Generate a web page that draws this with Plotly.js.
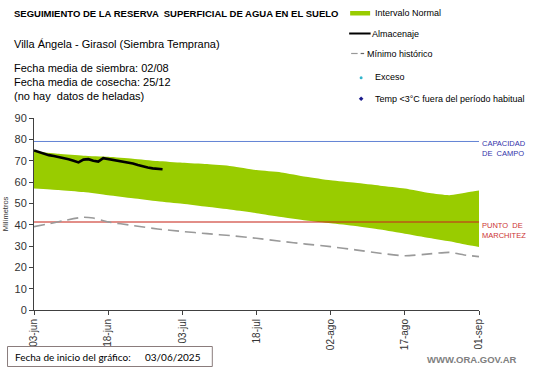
<!DOCTYPE html>
<html>
<head>
<meta charset="utf-8">
<script src="https://cdn.plot.ly/plotly-3.0.1.min.js"></script>
<style>html,body{margin:0;padding:0;background:#fff;}#chart{width:541px;height:368px;}</style>
</head>
<body>
<div id="chart"></div>
<script>
// ---- Data ----
const bandDates = ['2025-06-03','2025-06-08','2025-06-13','2025-06-18','2025-06-23','2025-06-28','2025-07-03','2025-07-08','2025-07-13','2025-07-18','2025-07-23','2025-07-28','2025-08-02','2025-08-07','2025-08-12','2025-08-17','2025-08-22','2025-08-26','2025-08-30','2025-09-01'];
const bandaSup = [74.4,73.2,72.3,71.8,70.9,69.8,69.0,68.4,67.4,65.6,64.5,62.5,60.8,59.6,58.3,57.0,54.8,53.8,55.3,56.0];
const bandaInf = [57.0,56.3,55.3,53.8,52.4,51.0,49.8,48.4,47.0,45.4,43.6,42.0,40.7,39.4,37.7,35.8,33.8,32.2,30.3,29.5];

const minDates = ['2025-06-03','2025-06-06','2025-06-09','2025-06-13','2025-06-15','2025-06-18','2025-06-23','2025-06-28','2025-07-03','2025-07-08','2025-07-13','2025-07-18','2025-07-23','2025-07-28','2025-08-02','2025-08-07','2025-08-12','2025-08-17','2025-08-22','2025-08-26','2025-08-29','2025-09-01'];
const minimoHist = [39.1,40.4,41.9,43.5,43.1,41.3,39.6,38.0,36.8,35.8,34.8,33.6,32.2,30.9,29.7,28.2,26.6,25.4,26.3,27.0,25.8,25.0];

const almDates = ['2025-06-03','2025-06-04','2025-06-05','2025-06-06','2025-06-07','2025-06-08','2025-06-09','2025-06-10','2025-06-11','2025-06-12','2025-06-13','2025-06-14','2025-06-15','2025-06-16','2025-06-17','2025-06-18','2025-06-19','2025-06-20','2025-06-21','2025-06-22','2025-06-23','2025-06-24','2025-06-25','2025-06-26','2025-06-27','2025-06-28','2025-06-29'];
const almacenaje = [74.8,74.0,73.1,72.6,72.2,71.8,71.3,70.7,70.0,69.2,70.5,70.7,70.0,69.6,71.2,70.8,70.5,70.1,69.8,69.3,68.7,68.0,67.3,66.8,66.4,66.2,66.0];

const limiteDates = ['2025-06-03','2025-09-01'];
const capacidadCampo = 79;
const puntoMarchitez = 41.3;

const tickVals = ['2025-06-03','2025-06-18','2025-07-03','2025-07-18','2025-08-02','2025-08-17','2025-09-01'];
const tickText = ['03-jun','18-jun','03-jul','18-jul','02-ago','17-ago','01-sep'];

// ---- Layout helpers (pixel -> paper) ----
const W = 541, H = 368;
const mL = 33.5, mR = 62, mT = 118, mB = 58;
const pw = W - mL - mR, ph = H - mT - mB;
const px = x => (x - mL) / pw;
const py = y => (H - mB - y) / ph;

const FONT = 'Liberation Sans, Arial, sans-serif';
const GREEN = '#99cc00';

const traces = [
  {x: bandDates, y: bandaInf, type: 'scatter', mode: 'lines', line: {width: 0, color: GREEN, shape: 'spline', smoothing: 0.5}, hoverinfo: 'skip', showlegend: false},
  {x: bandDates, y: bandaSup, type: 'scatter', mode: 'lines', fill: 'tonexty', fillcolor: GREEN, line: {width: 0, color: GREEN, shape: 'spline', smoothing: 0.5}, showlegend: false},
  {x: limiteDates, y: [puntoMarchitez, puntoMarchitez], type: 'scatter', mode: 'lines', line: {width: 1.5, color: 'rgba(200,40,30,0.7)'}, showlegend: false},
  {x: limiteDates, y: [capacidadCampo, capacidadCampo], type: 'scatter', mode: 'lines', line: {width: 1, color: '#6283d4'}, showlegend: false},
  {x: minDates, y: minimoHist, type: 'scatter', mode: 'lines', line: {width: 1.6, color: '#9a9a9a', dash: '11px,6px', shape: 'spline', smoothing: 0.6}, showlegend: false},
  {x: almDates, y: almacenaje, type: 'scatter', mode: 'lines', line: {width: 2.6, color: '#000000'}, showlegend: false}
];

const txt = (x, y, text, size, color, opts) => Object.assign({
  xref: 'paper', yref: 'paper', x: px(x), y: py(y), text: text, showarrow: false,
  xanchor: 'left', yanchor: 'middle', font: {family: FONT, size: size, color: color}
}, opts || {});

const annotations = [
  txt(11, 13, '<b>SEGUIMIENTO DE LA RESERVA  SUPERFICIAL DE AGUA EN EL SUELO</b>', 9.5, '#000'),
  txt(11, 44, 'Villa Ángela - Girasol (Siembra Temprana)', 11, '#000'),
  txt(11, 68, 'Fecha media de siembra: 02/08', 11, '#000'),
  txt(11, 82, 'Fecha media de cosecha: 25/12', 11, '#000'),
  txt(11, 96, '(no hay  datos de heladas)', 11, '#000'),
  txt(373, 13, 'Intervalo Normal', 9, '#000'),
  txt(370, 34, 'Almacenaje', 9, '#000'),
  txt(365, 54, 'Mínimo histórico', 9, '#000'),
  txt(373, 77, 'Exceso', 9, '#000'),
  txt(373, 99, 'Temp <3°C fuera del período habitual', 9, '#000'),
  txt(480, 143, 'CAPACIDAD', 7.5, '#3333aa'),
  txt(480, 153, 'DE  CAMPO', 7.5, '#3333aa'),
  txt(480, 225, 'PUNTO  DE', 7.5, '#cc3333'),
  txt(480, 235, 'MARCHITEZ', 7.5, '#cc3333'),
  txt(12, 356.5, 'Fecha de inicio del gráfico:', 10, '#000', {font: {family: 'Lato, sans-serif', size: 10, color: '#000'}}),
  txt(143, 356.5, '03/06/2025', 10, '#000', {font: {family: 'Lato, sans-serif', size: 10, color: '#000'}}),
  txt(519, 359, '<b>WWW.ORA.GOV.AR</b>', 9.5, '#808080', {xanchor: 'right'})
];

const shp = (o) => Object.assign({xref: 'paper', yref: 'paper'}, o);
const dcx = 361, dcy = 98.7, dr = 2.3;
const shapes = [
  shp({type: 'rect', x0: px(350), x1: px(370), y0: py(11), y1: py(15.5), fillcolor: GREEN, line: {width: 0}}),
  shp({type: 'line', x0: px(349), x1: px(370.5), y0: py(33.5), y1: py(33.5), line: {color: '#000', width: 2}}),
  shp({type: 'line', x0: px(351), x1: px(357.5), y0: py(53.5), y1: py(53.5), line: {color: '#999', width: 1.2}}),
  shp({type: 'line', x0: px(360.5), x1: px(364), y0: py(53.5), y1: py(53.5), line: {color: '#666', width: 1.2}}),
  shp({type: 'circle', x0: px(359.5), x1: px(362.5), y0: py(76.2), y1: py(79.2), fillcolor: '#33b5cc', line: {width: 0}}),
  shp({type: 'path',
    path: 'M ' + px(dcx) + ' ' + py(dcy - dr) + ' L ' + px(dcx + dr) + ' ' + py(dcy) + ' L ' + px(dcx) + ' ' + py(dcy + dr) + ' L ' + px(dcx - dr) + ' ' + py(dcy) + ' Z',
    fillcolor: '#1a1a8c', line: {width: 0}}),
  shp({type: 'rect', x0: px(7), x1: px(212), y0: py(346.5), y1: py(366.5), fillcolor: 'rgba(0,0,0,0)', line: {color: '#8a7c7c', width: 1}})
];

const layout = {
  width: W, height: H,
  margin: {l: mL, r: mR, t: mT, b: mB, pad: 0},
  paper_bgcolor: '#fff', plot_bgcolor: '#fff',
  showlegend: false,
  font: {family: FONT, size: 11, color: '#333'},
  xaxis: {
    type: 'date', range: ['2025-06-03', '2025-09-01'], tickvals: tickVals, ticktext: tickText,
    tickangle: -90, tickfont: {family: FONT, size: 10, color: '#333'},
    showgrid: false, zeroline: false, showline: true, linecolor: '#404040', linewidth: 1,
    ticks: 'outside', ticklen: 4, tickcolor: '#404040', fixedrange: true
  },
  yaxis: {
    range: [0, 90], dtick: 10, tick0: 0,
    tickfont: {family: FONT, size: 11, color: '#333'},
    showgrid: false, zeroline: false, showline: true, linecolor: '#404040', linewidth: 1,
    ticks: 'outside', ticklen: 4, tickcolor: '#404040',
    title: {text: 'Milímetros', font: {family: FONT, size: 7.5, color: '#333'}, standoff: 4},
    fixedrange: true
  },
  annotations: annotations,
  shapes: shapes
};

Plotly.newPlot('chart', traces, layout, {staticPlot: true, displayModeBar: false});
</script>
</body>
</html>
